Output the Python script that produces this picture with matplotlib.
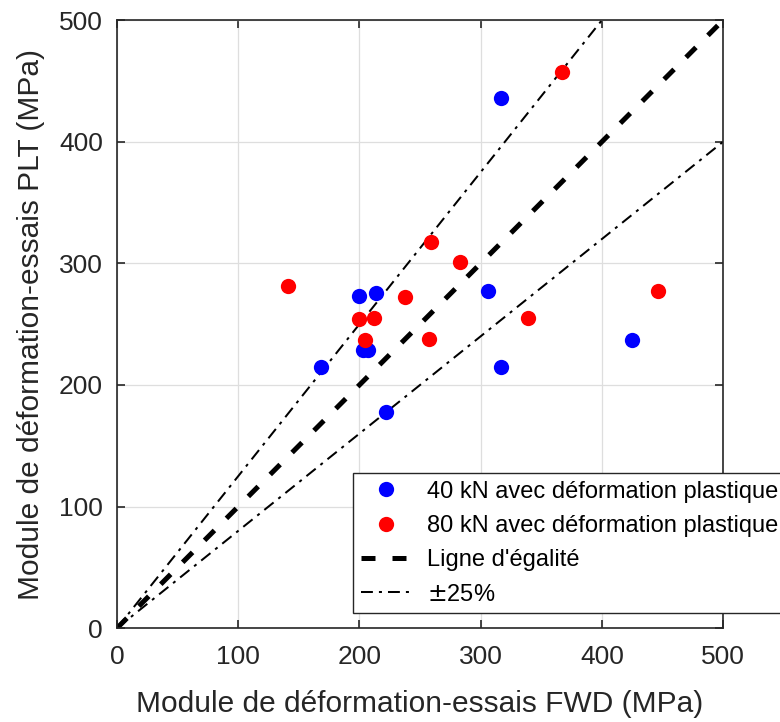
import numpy as np
import matplotlib
matplotlib.use("Agg")
import matplotlib.pyplot as plt

plt.rcParams['font.family'] = ['Liberation Sans', 'DejaVu Sans']

# Données (MPa)
fwd_40 = [317, 306, 317, 425, 200, 214, 168, 203, 207, 222]
plt_40 = [436, 277, 215, 237, 273, 276, 215, 229, 229, 178]

fwd_80 = [367, 141, 259, 283, 238, 200, 212, 205, 257, 339, 446]
plt_80 = [457, 281, 318, 301, 272, 254, 255, 237, 238, 255, 277]

ticks = [0, 100, 200, 300, 400, 500]
ligne = np.array([0, 500])

fig = plt.figure(figsize=(7.8, 7.22), dpi=100)
ax = fig.add_axes([0.15, 0.130, 0.777, 0.842])

ax.plot(fwd_40, plt_40, 'o', color='#0000ff', ms=11, mec='none',
        label='40 kN avec déformation plastique', zorder=3)
ax.plot(fwd_80, plt_80, 'o', color='#ff0000', ms=11, mec='none',
        label='80 kN avec déformation plastique', zorder=3)
ax.plot(ligne, ligne, '--', color='k', lw=3.6, dashes=(2.8, 3.4),
        label="Ligne d'égalité", zorder=2)
ax.plot(ligne, ligne * 1.25, color='k', lw=1.45, dashes=(5.9, 3, 1.5, 3),
        label=r'$\pm$25%', zorder=2)
ax.plot(ligne, ligne / 1.25, color='k', lw=1.45, dashes=(5.9, 3, 1.5, 3),
        zorder=2)

ax.set_xlim(0, 500)
ax.set_ylim(0, 500)
ax.set_xticks(ticks)
ax.set_yticks(ticks)
ax.grid(True, color='#dedede', lw=0.9)
ax.set_axisbelow(True)
ax.tick_params(direction='in', length=6, width=1.2, labelsize=19,
               colors='#262626', top=True, right=True)
ax.tick_params(axis='x', pad=12)
ax.tick_params(axis='y', pad=10)
for s in ax.spines.values():
    s.set_color('#262626')
    s.set_linewidth(1.2)

ax.set_xlabel('Module de déformation-essais FWD (MPa)', fontsize=21.5, color='#262626')
ax.set_ylabel('Module de déformation-essais PLT (MPa)', fontsize=21.5, color='#262626')
ax.xaxis.set_label_coords(0.5, -0.102)
ax.yaxis.set_label_coords(-0.118, 0.5)

leg = ax.legend(loc='upper left', bbox_to_anchor=(0.4526, 0.345),
                bbox_transform=fig.transFigure, fontsize=17, frameon=True,
                fancybox=False, edgecolor='#262626', framealpha=1,
                handlelength=2.1, handletextpad=0.7, labelspacing=0.52,
                borderpad=0.33, borderaxespad=0)
leg.get_frame().set_linewidth(1.0)

fig.savefig('out.png', dpi=100)
